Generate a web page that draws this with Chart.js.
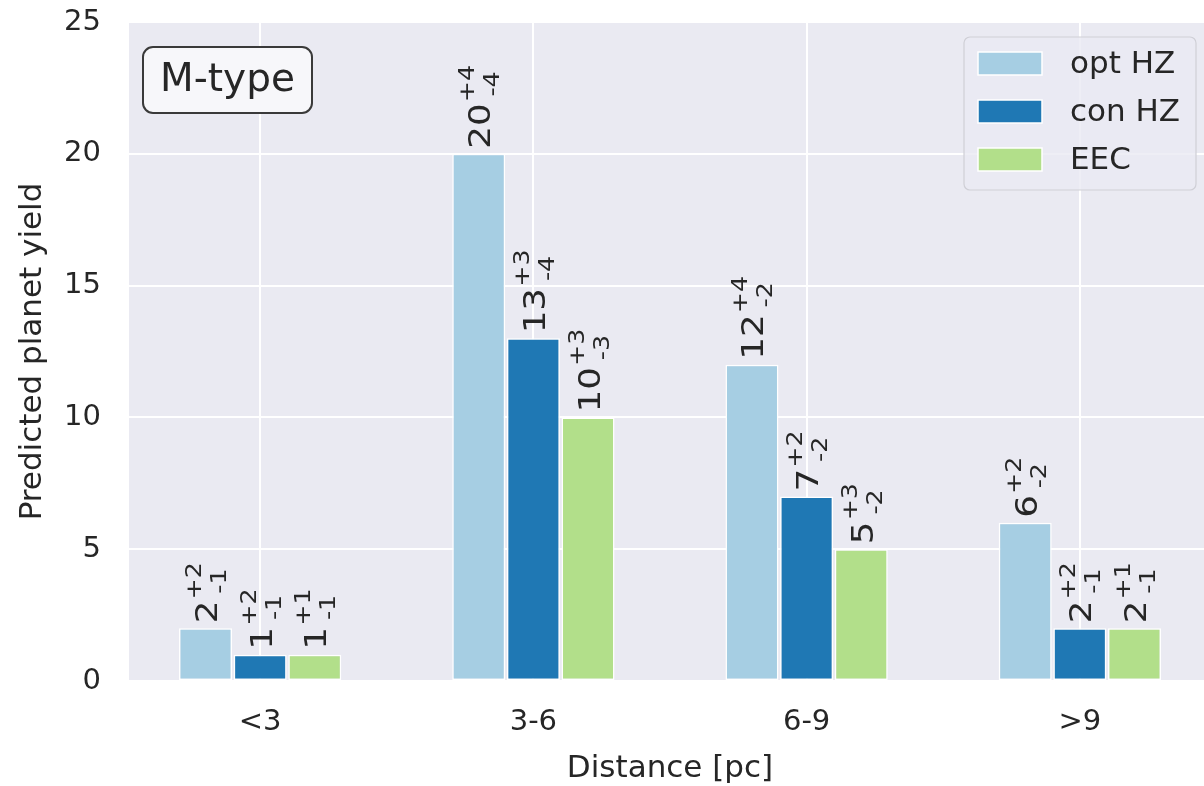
<!DOCTYPE html>
<html>
<head>
<meta charset="utf-8">
<script src="https://cdn.jsdelivr.net/npm/chart.js@4"></script>
<style>
  html, body { margin: 0; padding: 0; background: #fff; overflow: hidden; }
  #wrap { width: 1220px; height: 786px; }
</style>
</head>
<body>
<div id="wrap"><canvas id="yield" width="1220" height="786"></canvas></div>
<script>
// 距離ビンごとの予測惑星数（M型星）
const categories = ['<3', '3-6', '6-9', '>9'];
const seriesNames = ['opt HZ', 'con HZ', 'EEC'];
const optHZ = [2, 20, 12, 6];
const optPlus = [2, 4, 4, 2];
const optMinus = [1, 4, 2, 2];
const conHZ = [1, 13, 7, 2];
const conPlus = [2, 3, 2, 2];
const conMinus = [1, 4, 2, 1];
const eec = [1, 10, 5, 2];
const eecPlus = [1, 3, 3, 1];
const eecMinus = [1, 3, 2, 1];
const yTicks = [0, 5, 10, 15, 20, 25];

const colors = ['#A6CEE3', '#1F78B4', '#B2DF8A'];
const textColor = '#262626';
const FONT = '"DejaVu Sans", sans-serif';

function makeSet(idx, values, plus, minus) {
  return {
    label: seriesNames[idx],
    data: values.map((v, i) => ({ x: i, y: v })),
    plus,
    minus,
    backgroundColor: colors[idx],
    borderColor: '#ffffff',
    borderWidth: 1.5,
    borderSkipped: false,
    categoryPercentage: 0.6,
    barPercentage: 0.97,
  };
}

// プロット背景
const bgPlugin = {
  id: 'bg',
  beforeDraw(chart) {
    const { ctx, chartArea: a } = chart;
    ctx.save();
    ctx.fillStyle = '#EAEAF2';
    ctx.fillRect(a.left, a.top, a.right - a.left, a.bottom - a.top);
    ctx.restore();
  },
};

// 棒の上に縦書きで「値 +上側 -下側」を描く
const labelPlugin = {
  id: 'yieldLabels',
  afterDatasetsDraw(chart) {
    const ctx = chart.ctx;
    const M = 31, S = 22;
    const raise = 16, lower = 9, stretch = 1.15;
    chart.data.datasets.forEach((ds, di) => {
      const meta = chart.getDatasetMeta(di);
      meta.data.forEach((bar, i) => {
        const main = String(ds.data[i].y);
        ctx.save();
        ctx.translate(bar.x, bar.y - 5);
        ctx.rotate(-Math.PI / 2);
        ctx.scale(stretch, 1);
        ctx.fillStyle = textColor;
        ctx.textAlign = 'left';
        ctx.textBaseline = 'alphabetic';
        const b = (raise + 0.73 * S - lower) / 2;
        ctx.font = `${M}px ${FONT}`;
        ctx.fillText(main, 0, b);
        const wMain = ctx.measureText(main).width + 1;
        ctx.font = `${S}px ${FONT}`;
        ctx.fillText('+' + ds.plus[i], wMain, b - raise);
        ctx.fillText('-' + ds.minus[i], wMain + 5, b + lower);
        ctx.restore();
      });
    });
  },
};

// 凡例と「M-type」の注記
const boxPlugin = {
  id: 'boxes',
  afterDraw(chart) {
    const { ctx, chartArea: a } = chart;
    ctx.save();
    // M-type
    ctx.beginPath();
    ctx.roundRect(a.left + 14, a.top + 25, 169, 66, 10);
    ctx.fillStyle = '#F7F7FA';
    ctx.fill();
    ctx.lineWidth = 2;
    ctx.strokeStyle = '#3a3a3a';
    ctx.stroke();
    ctx.fillStyle = textColor;
    ctx.font = `39px ${FONT}`;
    ctx.textAlign = 'center';
    ctx.textBaseline = 'middle';
    ctx.fillText('M-type', a.left + 14 + 84.5, a.top + 25 + 34);

    // legend
    const lx = a.right - 15 - 232, ly = a.top + 15;
    ctx.beginPath();
    ctx.roundRect(lx, ly, 232, 153, 6);
    ctx.fillStyle = 'rgba(234,234,242,0.8)';
    ctx.fill();
    ctx.lineWidth = 1.2;
    ctx.strokeStyle = '#cfcfd6';
    ctx.stroke();
    ctx.font = `31px ${FONT}`;
    ctx.textAlign = 'left';
    ctx.textBaseline = 'middle';
    chart.data.datasets.forEach((ds, i) => {
      const cy = ly + 26.5 + i * 48;
      ctx.fillStyle = ds.backgroundColor;
      ctx.fillRect(lx + 14, cy - 11.5, 64, 23);
      ctx.strokeStyle = '#ffffff';
      ctx.lineWidth = 1.5;
      ctx.strokeRect(lx + 14, cy - 11.5, 64, 23);
      ctx.fillStyle = textColor;
      ctx.fillText(ds.label, lx + 106, cy + 1);
    });
    ctx.restore();
  },
};

new Chart(document.getElementById('yield'), {
  type: 'bar',
  data: {
    datasets: [
      makeSet(0, optHZ, optPlus, optMinus),
      makeSet(1, conHZ, conPlus, conMinus),
      makeSet(2, eec, eecPlus, eecMinus),
    ],
  },
  options: {
    responsive: false,
    animation: false,
    layout: { padding: { top: 22, right: 9, left: 0, bottom: 0 } },
    plugins: { legend: { display: false }, tooltip: { enabled: false } },
    scales: {
      x: {
        type: 'linear',
        min: -0.48,
        max: 3.48,
        offset: false,
        afterBuildTicks: (s) => { s.ticks = categories.map((c, i) => ({ value: i })); },
        afterFit: (s) => { s.height = 105; },
        ticks: {
          callback: (v) => categories[v],
          color: textColor,
          font: { family: FONT, size: 29 },
          padding: 24,
          maxRotation: 0,
        },
        grid: { color: '#ffffff', lineWidth: 2, drawTicks: false, offset: false },
        border: { display: false },
        title: {
          display: true,
          text: 'Distance [pc]',
          color: textColor,
          font: { family: FONT, size: 31 },
          padding: { top: 0, bottom: -2 },
        },
      },
      y: {
        min: 0,
        max: 25,
        afterBuildTicks: (s) => { s.ticks = yTicks.map((v) => ({ value: v })); },
        afterFit: (s) => {
          s.width = 129;
          s.paddingTop = 0;
          s.paddingBottom = 0;
        },
        ticks: {
          color: textColor,
          font: { family: FONT, size: 29 },
          padding: 28,
        },
        grid: { color: '#ffffff', lineWidth: 2, drawTicks: false },
        border: { display: false },
        title: {
          display: true,
          text: 'Predicted planet yield',
          color: textColor,
          font: { family: FONT, size: 31 },
          padding: { top: 14, bottom: 0 },
        },
      },
    },
  },
  plugins: [bgPlugin, labelPlugin, boxPlugin],
});
</script>
</body>
</html>
